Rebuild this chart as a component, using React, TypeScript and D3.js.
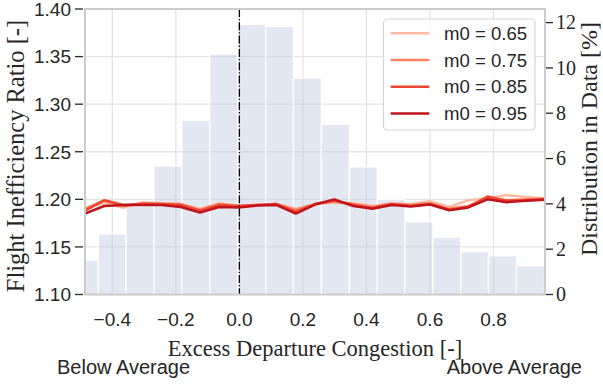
import React from "react";
import * as d3 from "d3";

// ---------- data ----------
const binEdges = [-0.532, -0.444, -0.357, -0.269, -0.181, -0.093, -0.005, 0.083, 0.170, 0.258, 0.346, 0.434, 0.521, 0.609, 0.697, 0.784, 0.872, 0.960];
const binPct = [1.52, 2.67, 3.91, 5.67, 7.69, 10.61, 11.92, 11.83, 9.55, 7.51, 5.63, 4.19, 3.21, 2.53, 1.89, 1.71, 1.27];

const lineX = d3.range(25).map((k) => -0.486 + (k * (0.962 + 0.486)) / 24);

const m065 = [1.191, 1.196, 1.191, 1.197, 1.196, 1.195, 1.190, 1.196, 1.193, 1.194, 1.195, 1.190, 1.195, 1.1965, 1.196, 1.193, 1.196, 1.195, 1.198, 1.192, 1.199, 1.201, 1.2045, 1.2025, 1.201];
const m075 = [1.190, 1.199, 1.193, 1.196, 1.195, 1.195, 1.189, 1.195, 1.193, 1.194, 1.195, 1.189, 1.195, 1.198, 1.195, 1.192, 1.195, 1.194, 1.196, 1.190, 1.193, 1.201, 1.199, 1.200, 1.201];
const m085 = [1.188, 1.199, 1.194, 1.195, 1.195, 1.194, 1.188, 1.194, 1.193, 1.194, 1.195, 1.187, 1.195, 1.1985, 1.194, 1.191, 1.195, 1.193, 1.195, 1.189, 1.192, 1.203, 1.1985, 1.199, 1.200];
const m095 = [1.185, 1.193, 1.194, 1.194, 1.194, 1.192, 1.186, 1.192, 1.1915, 1.1935, 1.194, 1.185, 1.1945, 1.200, 1.193, 1.190, 1.194, 1.1925, 1.1945, 1.1885, 1.1915, 1.200, 1.197, 1.1985, 1.1995];

const seriesNames = ["m0 = 0.65", "m0 = 0.75", "m0 = 0.85", "m0 = 0.95"];
const seriesValues = [m065, m075, m085, m095];
const seriesColors = ["#fcbba1", "#fc8464", "#ef4533", "#c0141b"];

const xTicks = [-0.4, -0.2, 0.0, 0.2, 0.4, 0.6, 0.8];
const yTicks = [1.1, 1.15, 1.2, 1.25, 1.3, 1.35, 1.4];
const y2Ticks = [0, 2, 4, 6, 8, 10, 12];

// ---------- layout ----------
const W = 603, H = 385;
const L = 85, R = 545, T = 9, B = 294.5;
const SANS = "'Liberation Sans', Arial, sans-serif";
const SERIF = "'Liberation Serif', 'Times New Roman', serif";
const TXT = "#262626";

export default function App() {
  const x = d3.scaleLinear().domain([-0.486, 0.962]).range([L, R]);
  const y = d3.scaleLinear().domain([1.1, 1.4]).range([B, T]);
  const y2 = d3.scaleLinear().domain([0, 12.6]).range([B, T]);
  const line = d3
    .line<number>()
    .x((_, i) => x(lineX[i]))
    .y((d) => y(d));
  const fmtMinus = (v: number) => d3.format(".1f")(v).replace("-", "\u2212");

  return (
    <svg width={W} height={H} style={{ position: "absolute", left: 0, top: 0, display: "block", background: "#fff" }}>
      <defs>
        <clipPath id="plot">
          <rect x={L} y={T} width={R - L} height={B - T} />
        </clipPath>
      </defs>
      {/* grid */}
      <g stroke="#e3e3e3" strokeWidth={1.3}>
        {yTicks.map((t) => (
          <line key={"gy" + t} x1={L} x2={R} y1={y(t)} y2={y(t)} />
        ))}
        {xTicks.map((t) => (
          <line key={"gx" + t} x1={x(t)} x2={x(t)} y1={T} y2={B} />
        ))}
      </g>
      {/* histogram */}
      <g clipPath="url(#plot)">
        {binPct.map((v, i) => (
          <rect
            key={"b" + i}
            x={x(binEdges[i])}
            width={x(binEdges[i + 1]) - x(binEdges[i])}
            y={y2(v)}
            height={B - y2(v)}
            fill="rgb(193,201,226)"
            fillOpacity={0.45}
            stroke="#fff"
            strokeWidth={1.2}
          />
        ))}
      </g>
      {/* lines */}
      <g clipPath="url(#plot)" fill="none" strokeWidth={2.5} strokeLinejoin="round">
        {seriesValues.map((s, i) => (
          <path key={"l" + i} d={line(s) || ""} stroke={seriesColors[i]} />
        ))}
      </g>
      {/* zero line */}
      <line x1={x(0)} x2={x(0)} y1={T} y2={B} stroke="#000" strokeWidth={1.3} strokeDasharray="8,2,1.3,2" />
      {/* spines */}
      <rect x={L} y={T} width={R - L} height={B - T} fill="none" stroke="#cccccc" strokeWidth={2} />
      {/* left ticks */}
      {yTicks.map((t) => (
        <g key={"yt" + t}>
          <line x1={75} x2={83} y1={y(t)} y2={y(t)} stroke={TXT} strokeWidth={1.3} />
          <text x={71} y={y(t)} dy="0.36em" textAnchor="end" fontFamily={SANS} fontSize={19} fill={TXT}>
            {t.toFixed(2)}
          </text>
        </g>
      ))}
      {/* right ticks */}
      {y2Ticks.map((t) => (
        <g key={"y2t" + t}>
          <line x1={546} x2={553} y1={y2(t)} y2={y2(t)} stroke={TXT} strokeWidth={1.3} />
          <text x={556} y={y2(t)} dy="0.34em" textAnchor="start" fontFamily={SERIF} fontSize={20} fill={TXT}>
            {t}
          </text>
        </g>
      ))}
      {/* x ticks labels */}
      {xTicks.map((t) => (
        <text key={"xt" + t} x={x(t)} y={326} textAnchor="middle" fontFamily={SANS} fontSize={19} fill={TXT}>
          {fmtMinus(t)}
        </text>
      ))}
      {/* axis labels */}
      <text x={(L + R) / 2} y={356} textAnchor="middle" fontFamily={SERIF} fontSize={22.5} fill={TXT}>
        Excess Departure Congestion [-]
      </text>
      <text transform={`translate(23.5,156) rotate(-90)`} textAnchor="middle" fontFamily={SERIF} fontSize={24.5} fill={TXT}>
        Flight Inefficiency Ratio [-]
      </text>
      <text transform={`translate(597,139) rotate(-90)`} textAnchor="middle" fontFamily={SERIF} fontSize={24} fill={TXT}>
        Distribution in Data [%]
      </text>
      <text x={57} y={374} fontFamily={SANS} fontSize={20} fill={TXT}>
        Below Average
      </text>
      <text x={582} y={374} textAnchor="end" fontFamily={SANS} fontSize={20} fill={TXT}>
        Above Average
      </text>
      {/* legend */}
      <rect x={383.5} y={19} width={151.5} height={111} rx={4} fill="#fff" fillOpacity={0.8} stroke="#d5d5d5" strokeWidth={1.2} />
      {seriesNames.map((n, i) => {
        const cy = 33.3 + i * 26.7;
        return (
          <g key={"lg" + i}>
            <line x1={390.7} x2={429.3} y1={cy} y2={cy} stroke={seriesColors[i]} strokeWidth={2.5} />
            <text x={444} y={cy} dy="0.36em" fontFamily={SANS} fontSize={18.6} fill={TXT}>
              {n}
            </text>
          </g>
        );
      })}
    </svg>
  );
}
